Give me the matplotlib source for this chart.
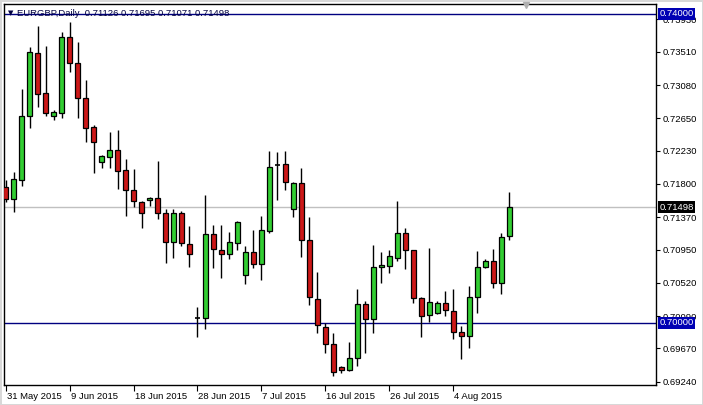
import numpy as np
import pandas as pd
import matplotlib
matplotlib.use("Agg")
import matplotlib.pyplot as plt

plt.rcParams['font.family'] = ['Liberation Sans', 'DejaVu Sans']

# EURGBP daily bars (open, high, low, close)
opens = [0.71760, 0.71601, 0.71847, 0.72676, 0.73491, 0.72973, 0.72676, 0.72722,
         0.73698, 0.73362, 0.72909, 0.72533, 0.72080, 0.72153, 0.72236, 0.71977,
         0.71722, 0.71562, 0.71588, 0.71614, 0.71420, 0.71045, 0.71420, 0.71019,
         0.70069, 0.70061, 0.71148, 0.70945, 0.70889, 0.71032, 0.70617, 0.70923,
         0.70760, 0.71195, 0.72045, 0.72054, 0.71472, 0.71808, 0.71074, 0.70311,
         0.69952, 0.69724, 0.69424, 0.69385, 0.69543, 0.70242, 0.70048, 0.70721,
         0.70734, 0.70845, 0.71165, 0.70941, 0.70327, 0.70104, 0.70133, 0.70263,
         0.70159, 0.69887, 0.69832, 0.70333, 0.70729, 0.70803, 0.70514, 0.71126]
highs = [0.71851, 0.71959, 0.73029, 0.73569, 0.73845, 0.73590, 0.72761, 0.73771,
         0.73893, 0.73641, 0.73146, 0.72563, 0.72175, 0.72469, 0.72498, 0.72119,
         0.71994, 0.71573, 0.71635, 0.72097, 0.71476, 0.71476, 0.71454, 0.71256,
         0.70211, 0.71657, 0.71269, 0.71269, 0.71174, 0.71324, 0.70997, 0.71204,
         0.71385, 0.72227, 0.72210, 0.72227, 0.71829, 0.72003, 0.71368, 0.70664,
         0.70004, 0.69874, 0.69443, 0.69754, 0.70440, 0.70285, 0.71010, 0.70915,
         0.70945, 0.71579, 0.71226, 0.70945, 0.70340, 0.70967, 0.70289, 0.70414,
         0.70440, 0.69965, 0.70479, 0.70932, 0.70825, 0.70954, 0.71161, 0.71695]
lows = [0.71566, 0.71441, 0.71777, 0.72520, 0.72800, 0.72683, 0.72632, 0.72650,
        0.73253, 0.72658, 0.72347, 0.71946, 0.72010, 0.72010, 0.71731, 0.71389,
        0.71506, 0.71234, 0.71518, 0.71346, 0.70781, 0.70838, 0.70997, 0.70721,
        0.69823, 0.69918, 0.70716, 0.70579, 0.70829, 0.70945, 0.70501, 0.70716,
        0.70557, 0.71169, 0.71592, 0.71722, 0.71376, 0.70858, 0.70233, 0.69874,
        0.69608, 0.69318, 0.69353, 0.69372, 0.69443, 0.69616, 0.69874, 0.70522,
        0.70651, 0.70807, 0.70699, 0.70255, 0.69823, 0.70017, 0.70117, 0.70091,
        0.69789, 0.69530, 0.69673, 0.70133, 0.70708, 0.70449, 0.70372, 0.71071]
closes = [0.71605, 0.71864, 0.72680, 0.73504, 0.72968, 0.72722, 0.72728, 0.73698,
          0.73362, 0.72909, 0.72528, 0.72339, 0.72162, 0.72240, 0.71972, 0.71718,
          0.71575, 0.71420, 0.71614, 0.71420, 0.71045, 0.71420, 0.71032, 0.70889,
          0.70069, 0.71148, 0.70954, 0.70889, 0.71045, 0.71311, 0.70923, 0.70760,
          0.71204, 0.72023, 0.72045, 0.71821, 0.71808, 0.71074, 0.70333, 0.69974,
          0.69728, 0.69370, 0.69392, 0.69543, 0.70242, 0.70048, 0.70721, 0.70747,
          0.70863, 0.71165, 0.70941, 0.70320, 0.70094, 0.70276, 0.70263, 0.70168,
          0.69887, 0.69832, 0.70333, 0.70729, 0.70803, 0.70514, 0.71109, 0.71498]

price_ticks = [0.73930, 0.73510, 0.73080, 0.72650, 0.72230, 0.71800,
               0.71370, 0.70950, 0.70520, 0.70090, 0.69670, 0.69240]
levels = [0.74000, 0.70000]
last_price = 0.71498

# bars run Sunday to Friday
days = pd.date_range('2015-05-31', periods=80, freq='D')
days = days[days.dayofweek != 5][:len(opens)]

o = np.array(opens); h = np.array(highs); l = np.array(lows); c = np.array(closes)
x = np.arange(len(o))
up = c > o
down = c < o
flat = c == o

fig = plt.figure(figsize=(7.03, 4.05), dpi=100)
fig.patch.set_facecolor('white')
ax = fig.add_axes([4/703, 1-385/405, 652/703, 381/405])
ax.set_xlim(-0.2, 81.35)
ax.set_ylim(0.69197, 0.74129)

# horizontal levels
ax.axhline(last_price, color='#c0c0c0', lw=1, zorder=1)
for lv in levels:
    ax.axhline(lv, color='#000080', lw=1, zorder=1)

# wicks
ax.vlines(x, l, h, color='black', lw=1, zorder=2)
# bodies
w = 0.62
ax.bar(x[up], (c - o)[up], bottom=o[up], width=w, color='#32cd32',
       edgecolor='black', lw=0.9, zorder=3)
ax.bar(x[down], (o - c)[down], bottom=c[down], width=w, color='#cc1818',
       edgecolor='black', lw=0.9, zorder=3)
ax.hlines(o[flat], x[flat] - w/2, x[flat] + w/2, color='black', lw=1.2, zorder=3)

# right price axis
ax.yaxis.tick_right()
ax.set_yticks(price_ticks)
ax.set_yticklabels(['%.5f' % t for t in price_ticks])
ax.tick_params(axis='y', direction='out', length=3, width=0.8, labelsize=6.8,
               pad=2, colors='black')

# date axis
tick_idx = np.arange(0, len(days), 8)
ax.set_xticks(tick_idx)
ax.set_xticklabels([f'{d.day} {d.strftime("%b %Y")}' for d in days[tick_idx]],
                   ha='left')
ax.tick_params(axis='x', direction='out', length=4, width=0.8, labelsize=6.8,
               pad=1)
for lab in ax.get_xticklabels():
    lab.set_x(lab.get_position()[0])
import matplotlib.transforms as mtransforms
offset = mtransforms.ScaledTranslation(1/100, 0, fig.dpi_scale_trans)
for lab in ax.get_xticklabels():
    lab.set_transform(lab.get_transform() + offset)

for sp in ax.spines.values():
    sp.set_color('black')
    sp.set_linewidth(1)

# boxed price labels on the right
ytr = ax.get_yaxis_transform()
for lv in levels:
    ax.text(1.005, lv, '%.5f' % lv, transform=ytr, fontsize=6.8, color='white',
            va='center', ha='left', zorder=10, clip_on=False,
            bbox=dict(boxstyle='square,pad=0.15', fc='#0000b4', ec='none'))
ax.text(1.005, last_price, '%.5f' % last_price, transform=ytr, fontsize=6.8,
        color='white', va='center', ha='left', zorder=10, clip_on=False,
        bbox=dict(boxstyle='square,pad=0.15', fc='black', ec='none'))

# chart header
ax.text(0.006, 0.985, '▼', transform=ax.transAxes, fontsize=5, va='top',
        ha='left', color='#000040', family=['DejaVu Sans'])
ax.text(0.02, 0.988, 'EURGBP,Daily  %.5f %.5f %.5f %.5f' % (o[-1], h[-1], l[-1], c[-1]),
        transform=ax.transAxes, fontsize=6.8, va='top', ha='left', color='#000040')
# chart shift marker
ax.plot([0.801], [0.997], marker='v', ms=5, color='#b0b0b0', transform=ax.transAxes,
        clip_on=False, zorder=5)

fig.patch.set_edgecolor('#d8d8d8')
fig.patch.set_linewidth(2)

fig.savefig('out.png', dpi=100, facecolor=fig.get_facecolor(),
            edgecolor=fig.get_edgecolor())
